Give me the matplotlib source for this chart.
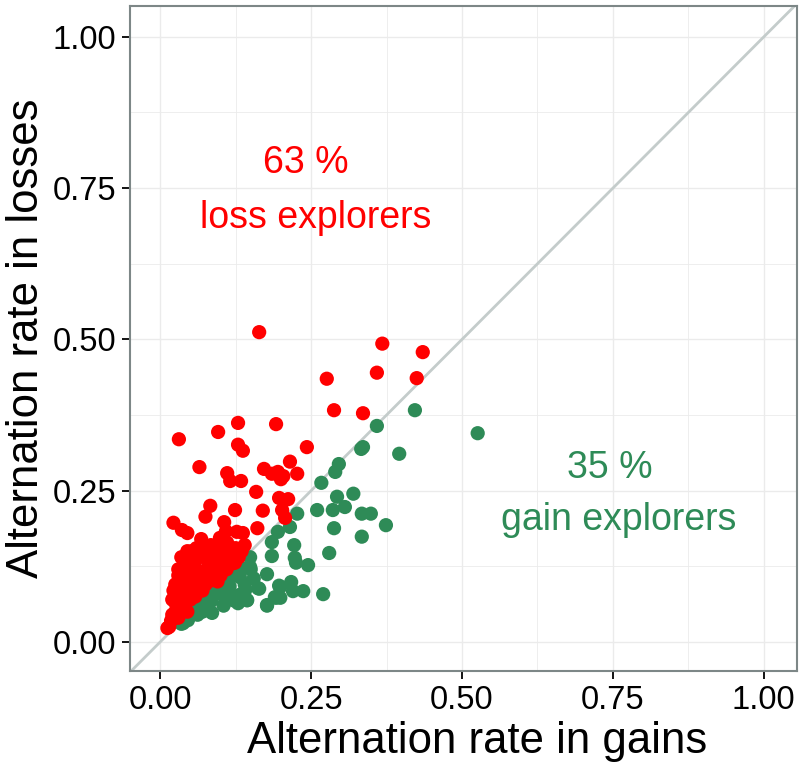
import numpy as np
import matplotlib
matplotlib.use("Agg")
import matplotlib.pyplot as plt

# ---------------------------------------------------------------------------
# Data: per-participant alternation rates (gains, losses)
# ---------------------------------------------------------------------------
loss_gain_x = [
    0.015, 0.02, 0.025, 0.03, 0.02, 0.035, 0.04, 0.03, 0.045, 0.05, 0.03, 0.04,
    0.05, 0.06, 0.035, 0.05, 0.06, 0.07, 0.08, 0.045, 0.065, 0.08, 0.09, 0.10,
    0.11, 0.10, 0.12, 0.13, 0.125, 0.07, 0.09, 0.11, 0.10, 0.06, 0.025, 0.035,
    0.055, 0.07, 0.045, 0.012, 0.018, 0.025, 0.038, 0.085, 0.095, 0.115, 0.124,
    0.099, 0.111, 0.124,
    0.028, 0.042, 0.058, 0.075, 0.088, 0.105, 0.118, 0.135, 0.062, 0.078, 0.092,
    0.084, 0.068, 0.052, 0.040, 0.030, 0.022, 0.055, 0.072, 0.088, 0.104, 0.140,
    0.022, 0.036, 0.045, 0.083, 0.075, 0.106, 0.109, 0.127, 0.124, 0.137, 0.161,
    0.170, 0.159, 0.197, 0.212, 0.202, 0.207, 0.111, 0.116, 0.134, 0.065, 0.172,
    0.185, 0.195, 0.204, 0.200, 0.215, 0.227, 0.129, 0.137, 0.031, 0.096, 0.129,
    0.192, 0.243, 0.164, 0.276, 0.359, 0.425, 0.368, 0.435, 0.288, 0.336,
]
loss_loss_y = [
    0.025, 0.045, 0.05, 0.04, 0.07, 0.06, 0.08, 0.10, 0.05, 0.07, 0.12, 0.11,
    0.10, 0.09, 0.14, 0.13, 0.12, 0.11, 0.10, 0.15, 0.14, 0.13, 0.12, 0.11,
    0.12, 0.14, 0.13, 0.14, 0.155, 0.16, 0.15, 0.16, 0.17, 0.155, 0.095, 0.09,
    0.085, 0.085, 0.095, 0.023, 0.035, 0.065, 0.10, 0.105, 0.10, 0.13, 0.145,
    0.172, 0.164, 0.131,
    0.075, 0.065, 0.075, 0.095, 0.110, 0.120, 0.140, 0.150, 0.105, 0.120, 0.135,
    0.160, 0.170, 0.150, 0.130, 0.110, 0.085, 0.120, 0.150, 0.145, 0.155, 0.160,
    0.197, 0.185, 0.180, 0.225, 0.207, 0.198, 0.183, 0.182, 0.218, 0.180, 0.188,
    0.217, 0.248, 0.238, 0.236, 0.218, 0.205, 0.279, 0.266, 0.266, 0.289, 0.286,
    0.278, 0.281, 0.274, 0.269, 0.298, 0.278, 0.326, 0.316, 0.335, 0.347, 0.362,
    0.360, 0.322, 0.512, 0.435, 0.445, 0.436, 0.493, 0.479, 0.383, 0.378,
]

gain_gain_x = [
    0.526, 0.422, 0.359, 0.333, 0.336, 0.396, 0.296, 0.290, 0.267, 0.293, 0.320,
    0.306, 0.286, 0.260, 0.227, 0.334, 0.349, 0.374, 0.215, 0.288, 0.195, 0.334,
    0.185, 0.222, 0.280, 0.149, 0.185, 0.223, 0.149, 0.225, 0.245, 0.177, 0.132,
    0.197, 0.217, 0.220, 0.237, 0.270, 0.164, 0.141, 0.144, 0.192, 0.177, 0.199,
    0.199,
    0.099, 0.091, 0.103, 0.079, 0.078, 0.086, 0.066, 0.055, 0.046, 0.038, 0.132,
    0.121, 0.129, 0.144, 0.162, 0.177, 0.190, 0.136, 0.127, 0.050, 0.060, 0.070,
    0.080, 0.090, 0.110, 0.120, 0.105, 0.112, 0.035, 0.070, 0.095, 0.125,
    0.155, 0.150, 0.140, 0.115, 0.085, 0.062,
]
gain_loss_y = [
    0.345, 0.383, 0.357, 0.319, 0.322, 0.311, 0.294, 0.281, 0.263, 0.240, 0.245,
    0.223, 0.218, 0.218, 0.212, 0.212, 0.212, 0.193, 0.190, 0.188, 0.182, 0.174,
    0.165, 0.160, 0.147, 0.140, 0.142, 0.139, 0.124, 0.131, 0.127, 0.112, 0.107,
    0.093, 0.099, 0.084, 0.084, 0.079, 0.088, 0.086, 0.069, 0.073, 0.061, 0.091,
    0.073,
    0.102, 0.089, 0.078, 0.074, 0.058, 0.048, 0.053, 0.048, 0.036, 0.031, 0.078,
    0.069, 0.064, 0.069, 0.089, 0.060, 0.074, 0.122, 0.127, 0.045, 0.055, 0.065,
    0.070, 0.080, 0.100, 0.110, 0.060, 0.085, 0.030, 0.050, 0.090, 0.070,
    0.105, 0.120, 0.095, 0.092, 0.068, 0.045,
]

ticks = [0.0, 0.25, 0.5, 0.75, 1.0]
tick_labels = ["0.00", "0.25", "0.50", "0.75", "1.00"]

RED = "#ff0000"
GREEN = "#2e8b57"

plt.rcParams["font.family"] = ["Liberation Sans", "DejaVu Sans"]

fig = plt.figure(figsize=(7.99, 7.68), dpi=100)
ax = fig.add_axes([130 / 799, 1 - 671 / 768, 667 / 799, 665 / 768])

# grid (major + minor, ggplot theme_bw style)
for v in np.arange(0, 1.01, 0.125):
    lw = 1.0 if v in ticks else 0.6
    ax.axvline(v, color="#ebebeb", lw=lw, zorder=0)
    ax.axhline(v, color="#ebebeb", lw=lw, zorder=0)

ax.plot([-0.1, 1.1], [-0.1, 1.1], color="#c4cccb", lw=2.0, zorder=1)

ax.scatter(gain_gain_x, gain_loss_y, s=105, color=GREEN, edgecolors="none", zorder=2)
ax.scatter(loss_gain_x, loss_loss_y, s=105, color=RED, edgecolors="none", zorder=3)

ax.text(0.242, 0.775, "63 %", color=RED, fontsize=27, ha="center", va="baseline")
ax.text(0.257, 0.684, "loss explorers", color=RED, fontsize=27, ha="center", va="baseline")
ax.text(0.745, 0.271, "35 %", color=GREEN, fontsize=27, ha="center", va="baseline")
ax.text(0.760, 0.185, "gain explorers", color=GREEN, fontsize=27, ha="center", va="baseline")

ax.set_xlim(-0.05, 1.055)
ax.set_ylim(-0.048, 1.051)
ax.set_xticks(ticks)
ax.set_xticklabels(tick_labels)
ax.set_yticks(ticks)
ax.set_yticklabels(tick_labels)
ax.tick_params(labelsize=23.5, length=6, width=1.3, color="black", pad=4)

for sp in ax.spines.values():
    sp.set_color("#7d8787")
    sp.set_linewidth(1.5)

ax.set_xlabel("Alternation rate in gains", fontsize=31.5)
ax.set_ylabel("Alternation rate in losses", fontsize=31.5)
ax.xaxis.set_label_coords(0.52, -0.075, transform=ax.transAxes)
ax.xaxis.label.set_va("top")
ax.yaxis.set_label_coords(-0.125, 0.5, transform=ax.transAxes)

fig.savefig("out.png", dpi=100)
